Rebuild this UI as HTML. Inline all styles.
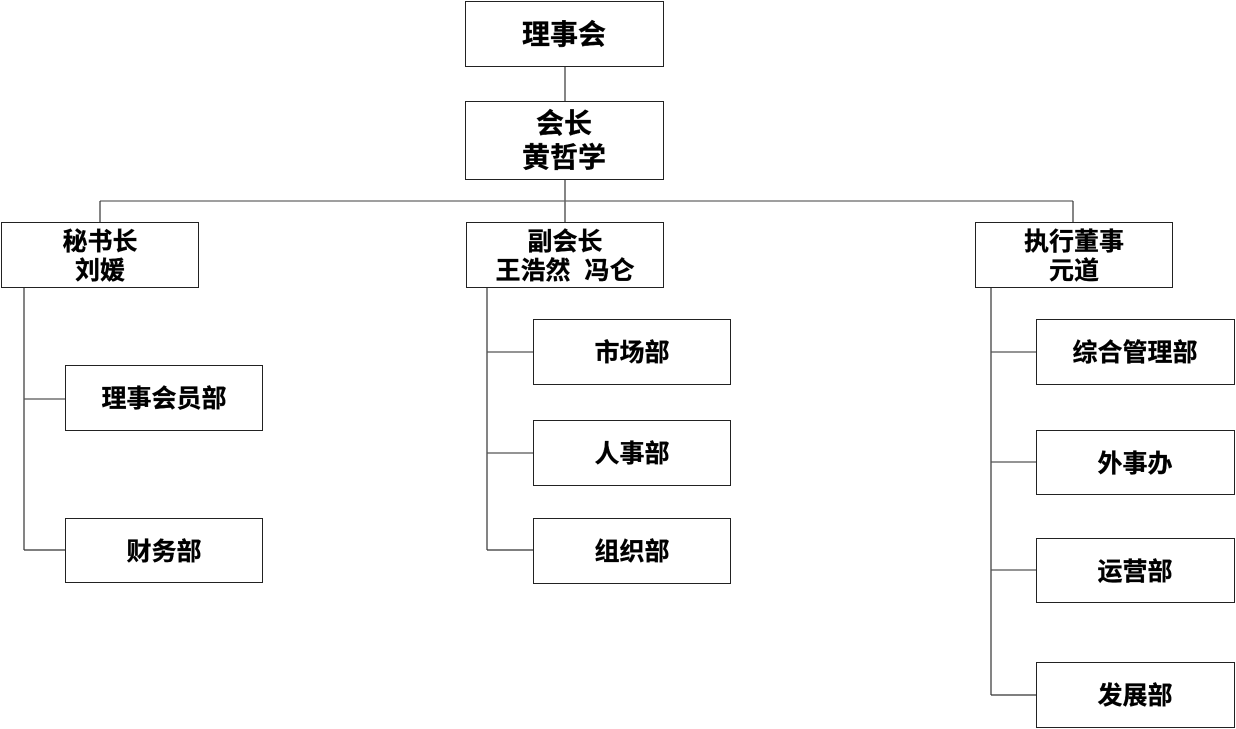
<!DOCTYPE html>
<html><head><meta charset="utf-8"><style>
html,body{margin:0;padding:0;background:#fff;}
svg{display:block;}
text{font-family:"Liberation Sans","Noto Sans CJK SC",sans-serif;font-weight:bold;font-size:25px;fill:#000;text-anchor:middle;stroke:#000;stroke-width:0.3;}
text.big{font-size:28px;}
rect{fill:#fff;stroke:#222;stroke-width:1;}
line{stroke:#333;stroke-width:1.2;}
</style></head><body>
<svg width="1236" height="729" viewBox="0 0 1236 729">
<line x1="565" y1="66" x2="565" y2="101"/>
<line x1="565" y1="179" x2="565" y2="222"/>
<line x1="100" y1="201" x2="1073" y2="201" style="stroke:#666"/>
<line x1="100" y1="201" x2="100" y2="222"/>
<line x1="1073" y1="201" x2="1073" y2="222"/>
<line x1="24" y1="287" x2="24" y2="550"/>
<line x1="24" y1="399" x2="65" y2="399" style="stroke:#555"/>
<line x1="24" y1="550" x2="65" y2="550"/>
<line x1="487" y1="287" x2="487" y2="550"/>
<line x1="487" y1="352" x2="533" y2="352" style="stroke:#555"/>
<line x1="487" y1="453" x2="533" y2="453" style="stroke:#555"/>
<line x1="487" y1="550" x2="533" y2="550"/>
<line x1="991" y1="287" x2="991" y2="695"/>
<line x1="991" y1="352" x2="1036" y2="352" style="stroke:#555"/>
<line x1="991" y1="462" x2="1036" y2="462" style="stroke:#555"/>
<line x1="991" y1="570" x2="1036" y2="570" style="stroke:#555"/>
<line x1="991" y1="695" x2="1036" y2="695"/>

<rect x="465.5" y="1.5" width="198" height="65"/><text class="big" x="564" y="44">理事会</text>
<rect x="465.5" y="101.5" width="198" height="78"/><text class="big" x="564" y="133">会长</text><text class="big" x="564" y="167">黄哲学</text>
<rect x="1.5" y="222.5" width="197" height="65"/><text x="100" y="250">秘书长</text><text x="100" y="279">刘媛</text>
<rect x="466.5" y="222.5" width="197" height="65"/><text x="565" y="250">副会长</text><text x="565" y="279" xml:space="preserve">王浩然  冯仑</text>
<rect x="975.5" y="222.5" width="197" height="65"/><text x="1074" y="250">执行董事</text><text x="1074" y="279">元道</text>

<rect x="65.5" y="365.5" width="197" height="65"/><text x="164" y="407">理事会员部</text>
<rect x="65.5" y="518.5" width="197" height="64"/><text x="164" y="560">财务部</text>

<rect x="533.5" y="319.5" width="197" height="65"/><text x="632" y="361">市场部</text>
<rect x="533.5" y="420.5" width="197" height="65"/><text x="632" y="462">人事部</text>
<rect x="533.5" y="518.5" width="197" height="65"/><text x="632" y="560">组织部</text>

<rect x="1036.5" y="319.5" width="198" height="65"/><text x="1135" y="361">综合管理部</text>
<rect x="1036.5" y="430.5" width="198" height="64"/><text x="1135" y="472">外事办</text>
<rect x="1036.5" y="538.5" width="198" height="64"/><text x="1135" y="580">运营部</text>
<rect x="1036.5" y="662.5" width="198" height="65"/><text x="1135" y="704">发展部</text>
</svg>
</body></html>
